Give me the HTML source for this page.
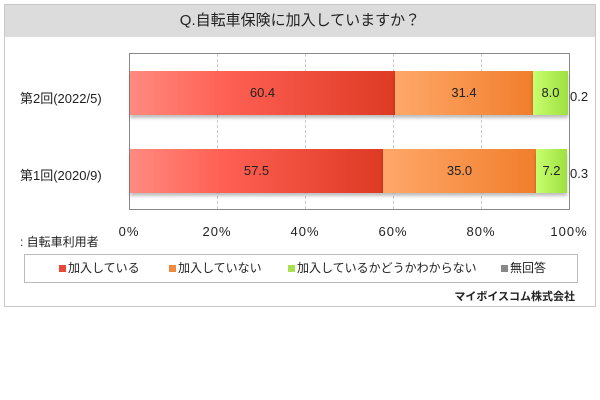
<!DOCTYPE html><html><head><meta charset="utf-8"><style>
body{margin:0;width:600px;height:400px;background:#fff;font-family:"Liberation Sans","Noto Sans CJK JP",sans-serif;position:relative;overflow:hidden;color:#222}
.a{position:absolute}
.box{left:4px;top:4px;width:592px;height:303px;border:1px solid #c8c8c8;box-sizing:border-box}
.title{left:5px;top:5px;width:590px;height:32px;background:#dcdcdc;text-align:center;line-height:32px;font-size:15px}
.plot{left:129px;top:53px;width:441px;height:157px;border:1px solid #888;box-sizing:border-box}
.g{top:54px;height:155px;border-left:1px dashed #ccc;width:0}
.seg{height:44px;line-height:44px;text-align:center;font-size:13px;box-shadow:0 3px 3px rgba(0,0,0,.25)}
.r{background:linear-gradient(90deg,#ff8a80,#ff6155 35%,#de3a24)}
.o{background:linear-gradient(90deg,#ffa86a,#f07e2c)}
.gr{background:linear-gradient(90deg,#c8ff70,#9ee040)}
.lab{font-size:13px}
.t{top:224px;font-size:13px;width:60px;text-align:center;letter-spacing:1px}
.sq{top:10px;width:7px;height:7px}
</style></head><body>
<div class="a box"></div>
<div class="a title">Q.自転車保険に加入していますか？</div>
<div class="a plot"></div>
<div class="a g" style="left:217px"></div><div class="a g" style="left:305px"></div><div class="a g" style="left:393px"></div><div class="a g" style="left:481px"></div>
<div class="a seg r" style="left:130px;top:71px;width:265px">60.4</div>
<div class="a seg o" style="left:395px;top:71px;width:138px">31.4</div>
<div class="a seg gr" style="left:533px;top:71px;width:35px">8.0</div>
<div class="a lab" style="left:570px;top:89px">0.2</div>
<div class="a seg r" style="left:130px;top:149px;width:253px">57.5</div>
<div class="a seg o" style="left:383px;top:149px;width:153px">35.0</div>
<div class="a seg gr" style="left:536px;top:149px;width:31px">7.2</div>
<div class="a lab" style="left:570px;top:166px">0.3</div>
<div class="a lab" style="left:20px;top:88px">第2回(2022/5)</div>
<div class="a lab" style="left:20px;top:165px">第1回(2020/9)</div>
<div class="a t" style="left:99px">0%</div><div class="a t" style="left:187px">20%</div><div class="a t" style="left:275px">40%</div><div class="a t" style="left:363px">60%</div><div class="a t" style="left:451px">80%</div><div class="a t" style="left:539px">100%</div>
<div class="a" style="left:20px;top:233px;font-size:12px">: 自転車利用者</div>
<div class="a" style="left:24px;top:254px;width:554px;height:29px;border:1px solid #bbb;box-sizing:border-box;font-size:12px;line-height:27px">
<span class="a sq" style="left:34px;background:#e8493a"></span><span class="a" style="left:43px">加入している</span>
<span class="a sq" style="left:144px;background:#f08a40"></span><span class="a" style="left:153px">加入していない</span>
<span class="a sq" style="left:263px;background:#a8e050"></span><span class="a" style="left:272px">加入しているかどうかわからない</span>
<span class="a sq" style="left:476px;background:#888"></span><span class="a" style="left:485px">無回答</span>
</div>
<div class="a" style="right:25px;top:288px;font-size:11px;font-weight:bold">マイボイスコム株式会社</div>
</body></html>
